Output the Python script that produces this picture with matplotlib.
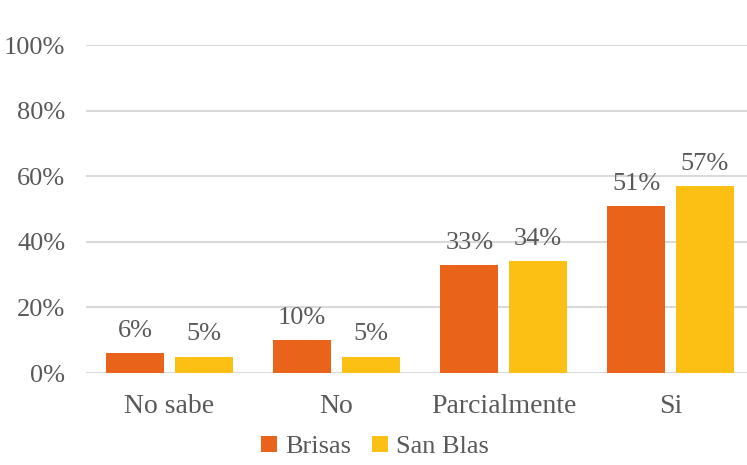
import numpy as np
import matplotlib.pyplot as plt

categories = ['No sabe', 'No', 'Parcialmente', 'Si']
brisas = [0.06, 0.10, 0.33, 0.51]
san_blas = [0.05, 0.05, 0.34, 0.57]
yticks = [0.0, 0.2, 0.4, 0.6, 0.8, 1.0]
ytick_labels = ['0%', '20%', '40%', '60%', '80%', '100%']

plt.rcParams['font.family'] = ['Liberation Serif', 'DejaVu Serif']
grey = '#595959'

fig = plt.figure(figsize=(7.47, 4.65), dpi=100)
# plot area runs a bit past the right edge, like the cropped original
ax = fig.add_axes([86/747., (465-373)/465., 668/747., (373-45)/465.])

x = np.arange(len(categories))
w = 0.35
off = 0.205
b1 = ax.bar(x - off, brisas, w, color='#E9631A', label='Brisas', zorder=3)
b2 = ax.bar(x + off, san_blas, w, color='#FCBF14', label='San Blas', zorder=3)

for bars, vals in ((b1, brisas), (b2, san_blas)):
    for r, v in zip(bars, vals):
        ax.annotate('{0:.0f}%'.format(v*100),
                    (r.get_x() + r.get_width()/2., r.get_height()),
                    xytext=(0, 8), textcoords='offset points',
                    ha='center', va='bottom', fontsize=19, color=grey)

ax.set_xlim(-0.5, len(categories) - 0.5)
ax.set_ylim(0, 1.0)
ax.set_yticks(yticks)
ax.set_yticklabels(ytick_labels)
ax.set_xticks(x)
ax.set_xticklabels(categories)
ax.tick_params(axis='both', length=0, labelsize=19, colors=grey)
ax.tick_params(axis='x', pad=15, labelsize=20)
ax.tick_params(axis='y', pad=15)
ax.grid(axis='y', color='#D9D9D9', linewidth=1.5, zorder=0)
ax.set_axisbelow(True)
for s in ax.spines.values():
    s.set_visible(False)

fig.legend(loc='center', bbox_to_anchor=(375/747., 1 - 447/465.), ncol=2,
           frameon=False, fontsize=19, handlelength=0.6, handleheight=0.6,
           handletextpad=0.3, columnspacing=0.8, labelcolor=grey)

fig.savefig('out.png', dpi=100)
